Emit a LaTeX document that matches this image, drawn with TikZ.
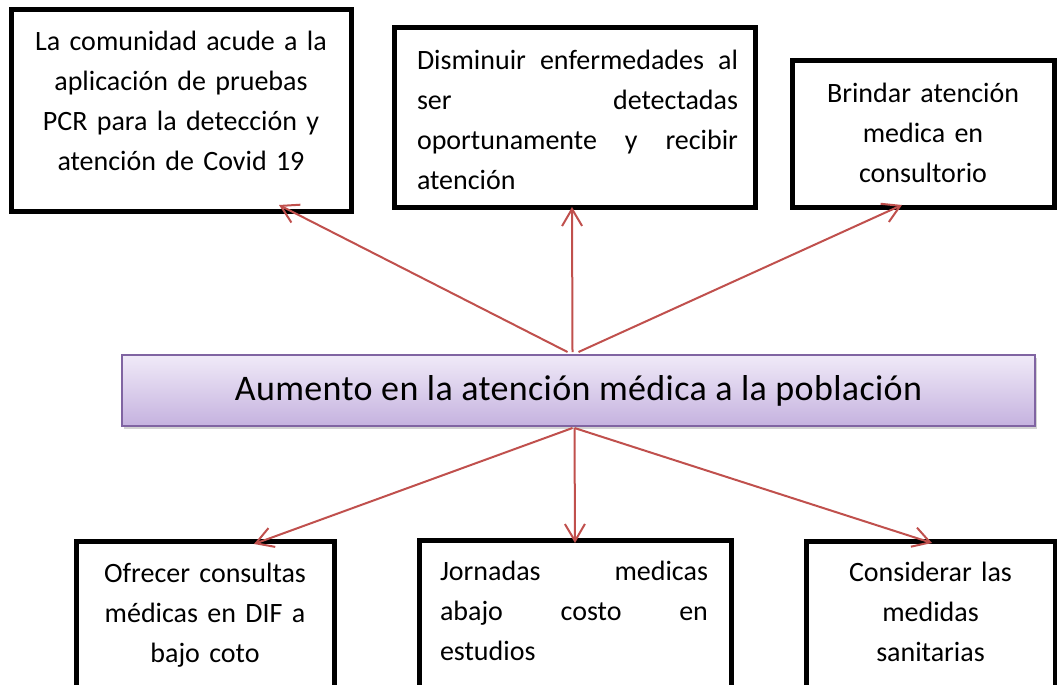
\documentclass[tikz,border=0pt]{standalone}
\usepackage{fontspec}
\setmainfont{Carlito}
\newfontfamily\titlefont[LetterSpace=1]{Carlito}
\usetikzlibrary{arrows.meta, positioning, shadows}

\definecolor{linkred}{HTML}{C0504D}
\definecolor{lilac}{HTML}{8064A2}
\definecolor{lilactop}{HTML}{F0EAF8}
\definecolor{lilacbot}{HTML}{C5B2DF}

\tikzset{
  card/.style={draw=black, line width=5pt, fill=white, outer sep=0pt,
    drop shadow={shadow xshift=2pt, shadow yshift=-2pt, opacity=0.35}},
  cardtext/.style={inner sep=0pt, font=\fontsize{28}{40}\selectfont},
  mainbox/.style={draw=lilac, line width=2pt, outer sep=0pt,
    top color=lilactop, bottom color=lilacbot,
    drop shadow={shadow xshift=2pt, shadow yshift=-3pt, opacity=0.35},
    font=\titlefont\fontsize{36}{44}\selectfont},
  link/.style={draw=linkred, line width=2pt, -{Straight Barb[length=17pt,width=20pt]}},
}

\begin{document}
\begin{tikzpicture}[x=1pt, y=-1pt]
  \useasboundingbox (0,0) rectangle (1057,685);

  % nodes %
  \node[card, minimum width=340pt, minimum height=201pt] (pcr) at (181,110.5) {};
  \node[card, minimum width=361pt, minimum height=179pt] (enferm) at (574.5,117.5) {};
  \node[card, minimum width=262pt, minimum height=146pt] (consult) at (923,134) {};
  \node[mainbox, minimum width=913pt, minimum height=71pt] (aumento) at (578.5,390.5)
    {Aumento en la atención médica a la población};
  \node[card, minimum width=258pt, minimum height=200pt] (dif) at (205,641) {};
  \node[card, minimum width=312pt, minimum height=200pt] (jornadas) at (575,640) {};
  \node[card, minimum width=249pt, minimum height=200pt] (medidas) at (930.5,641) {};

  % texts %
  \node[cardtext, below=21pt of pcr.north, text width=330pt, align=center] (pcrtxt)
    {La comunidad acude a la\\ aplicación de pruebas\\ PCR para la detección y\\ atención de Covid 19};
  \node[cardtext, below=22pt of enferm.north, xshift=3pt, text width=321pt, align=justify] (enfermtxt)
    {Disminuir enfermedades al\linebreak ser detectadas\linebreak oportunamente y recibir\linebreak atención};
  \node[cardtext, below=22pt of consult.north, text width=240pt, align=center] (consulttxt)
    {Brindar atención\\ medica en\\ consultorio};
  \node[cardtext, below=22pt of dif.north, text width=240pt, align=center] (diftxt)
    {Ofrecer consultas\\ médicas en DIF a\\ bajo coto};
  \node[cardtext, below=21pt of jornadas.north, xshift=-1pt, text width=268pt, align=justify] (jornadastxt)
    {Jornadas medicas\linebreak abajo costo en\linebreak estudios};
  \node[cardtext, below=21pt of medidas.north, text width=230pt, align=center] (medidastxt)
    {Considerar las\\ medidas\\ sanitarias};

  % edges %
  \draw[link] ([xshift=-11pt,yshift=3pt]aumento.north) -- ([xshift=98pt,yshift=6pt]pcr.south);
  \draw[link] ([xshift=-6pt,yshift=3pt]aumento.north) -- ([xshift=-2.5pt]enferm.south);
  \draw[link] ([yshift=3pt]aumento.north) -- ([xshift=-21pt,yshift=2pt]consult.south);
  \draw[link] ([xshift=-6pt,yshift=-2pt]aumento.south) -- ([xshift=49pt,yshift=-3pt]dif.north);
  \draw[link] ([xshift=-4pt,yshift=-2pt]aumento.south) -- ([yshift=-3pt]jornadas.north);
  \draw[link] ([xshift=-4pt,yshift=-2pt]aumento.south) -- ([xshift=1.5pt,yshift=-2pt]medidas.north);
\end{tikzpicture}
\end{document}
